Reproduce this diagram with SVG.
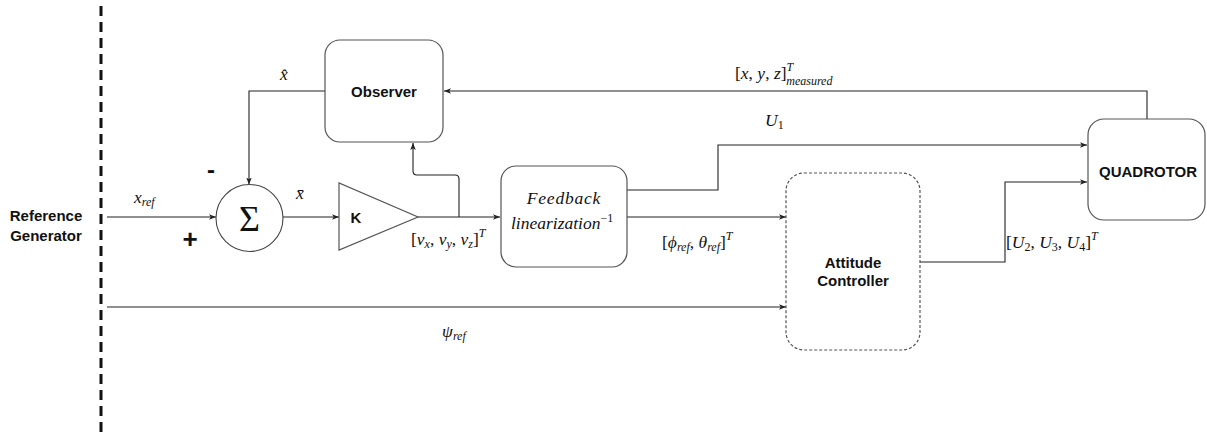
<svg xmlns="http://www.w3.org/2000/svg" width="1207" height="437" viewBox="0 0 1207 437">
  <style>
    .box { fill: #ffffff; stroke: #555555; stroke-width: 1.2; }
    .dash { stroke-dasharray: 3 2; }
    .wire { fill: none; stroke: #222222; stroke-width: 1.1; marker-end: url(#arr); }
    .lbl { font-family: "Liberation Sans", Arial, sans-serif; font-weight: bold; font-size: 15px; fill: #111; text-anchor: middle; }
    .math { font-family: "Liberation Serif", "Times New Roman", serif; font-style: italic; font-size: 17.5px; fill: #111; }
    .up { font-style: normal; }
    .sub { font-size: 12px; }
  </style>
  <defs>
    <marker id="arr" viewBox="0 0 10 10" refX="10" refY="5" markerWidth="7" markerHeight="7" markerUnits="userSpaceOnUse" orient="auto">
      <path d="M0,1 L10,5 L0,9 L2.5,5 Z" fill="#222222"/>
    </marker>
  </defs>
  <rect width="1207" height="437" fill="#ffffff"/>

  <!-- boundary of the reference generator -->
  <line x1="101" y1="6" x2="101" y2="437" stroke="#111" stroke-width="3" stroke-dasharray="10 6"/>

  <!-- connectors -->
  <g id="connectors">
    <path class="wire" d="M107,217 H216"/>
    <path class="wire" d="M325,91 H249 V184.5"/>
    <path class="wire" d="M283,217 H339"/>
    <path class="wire" d="M418,217 H500"/>
    <path class="wire" d="M459,217 V179 Q459,175 455,175 H417 Q413,175 413,171 V143"/>
    <path class="wire" d="M627,190 H718 V145 H1087"/>
    <path class="wire" d="M627,217 H786"/>
    <path class="wire" d="M920,262 H1005 V182 H1087"/>
    <path class="wire" d="M1147,119 V91 H444"/>
    <path class="wire" d="M107,307 H786"/>
  </g>

  <g id="reference-generator">
    <text class="lbl" x="46" y="221">Reference</text>
    <text class="lbl" x="46" y="241">Generator</text>
  </g>

  <g id="summer">
    <circle cx="249.5" cy="218" r="33.5" fill="#fff" stroke="#444" stroke-width="1.1"/>
    <text x="249.5" y="231" font-family="Liberation Serif, serif" font-size="36" text-anchor="middle" fill="#111">Σ</text>
    <text x="211" y="178" font-family="Liberation Sans, sans-serif" font-weight="bold" font-size="24" text-anchor="middle" fill="#111">-</text>
    <text x="190" y="248" font-family="Liberation Sans, sans-serif" font-weight="bold" font-size="26" text-anchor="middle" fill="#111">+</text>
  </g>

  <g id="gain">
    <polygon points="339,183 339,250 418,217" fill="#fff" stroke="#555" stroke-width="1.2"/>
    <text class="lbl" x="356" y="223" font-size="14">K</text>
  </g>

  <g id="observer">
    <rect class="box" x="325" y="40" width="118" height="102" rx="15"/>
    <text class="lbl" x="384" y="97">Observer</text>
  </g>

  <g id="feedback-linearization">
    <rect class="box" x="501" y="166" width="126" height="101" rx="15"/>
    <text class="math" x="564" y="204" text-anchor="middle" letter-spacing="0.8">Feedback</text>
    <text class="math" x="511" y="229">linearization<tspan class="up sub" dy="-7">−1</tspan></text>
  </g>

  <g id="attitude-controller">
    <rect class="box dash" x="786" y="173" width="134" height="177" rx="18"/>
    <text class="lbl" x="853" y="268">Attitude</text>
    <text class="lbl" x="853" y="286">Controller</text>
  </g>

  <g id="quadrotor">
    <rect class="box" x="1088" y="119" width="117" height="101" rx="16"/>
    <text class="lbl" x="1148" y="177">QUADROTOR</text>
  </g>

  <!-- signal labels -->
  <g id="labels">
    <text class="math" x="134" y="203">x<tspan class="sub" dy="3">ref</tspan></text>
    <text class="math" x="280" y="80" font-size="19">x̂</text>
    <text class="math" x="296" y="199" font-size="19">x̄</text>
    <text class="math" x="411" y="245"><tspan class="up">[</tspan>v<tspan class="sub" dy="3">x</tspan><tspan dy="-3" class="up">, </tspan>v<tspan class="sub" dy="3">y</tspan><tspan dy="-3" class="up">, </tspan>v<tspan class="sub" dy="3">z</tspan><tspan dy="-3" class="up">]</tspan><tspan class="sub" dy="-8">T</tspan></text>
    <text class="math" x="735" y="79"><tspan class="up">[</tspan>x<tspan class="up">, </tspan>y<tspan class="up">, </tspan>z<tspan class="up">]</tspan><tspan class="sub" dy="-8">T</tspan><tspan class="sub" dx="-7" dy="14">measured</tspan></text>
    <text class="math" x="765" y="126">U<tspan class="up sub" dy="3">1</tspan></text>
    <text class="math" x="662" y="248"><tspan class="up">[</tspan>ϕ<tspan class="sub" dy="3">ref</tspan><tspan dy="-3" class="up">, </tspan>θ<tspan class="sub" dy="3">ref</tspan><tspan dy="-3" class="up">]</tspan><tspan class="sub" dy="-8">T</tspan></text>
    <text class="math" x="1006" y="248"><tspan class="up">[</tspan>U<tspan class="up sub" dy="3">2</tspan><tspan dy="-3" class="up">, </tspan>U<tspan class="up sub" dy="3">3</tspan><tspan dy="-3" class="up">, </tspan>U<tspan class="up sub" dy="3">4</tspan><tspan dy="-3" class="up">]</tspan><tspan class="sub" dy="-8">T</tspan></text>
    <text class="math" x="442" y="337">ψ<tspan class="sub" dy="3">ref</tspan></text>
  </g>
</svg>
